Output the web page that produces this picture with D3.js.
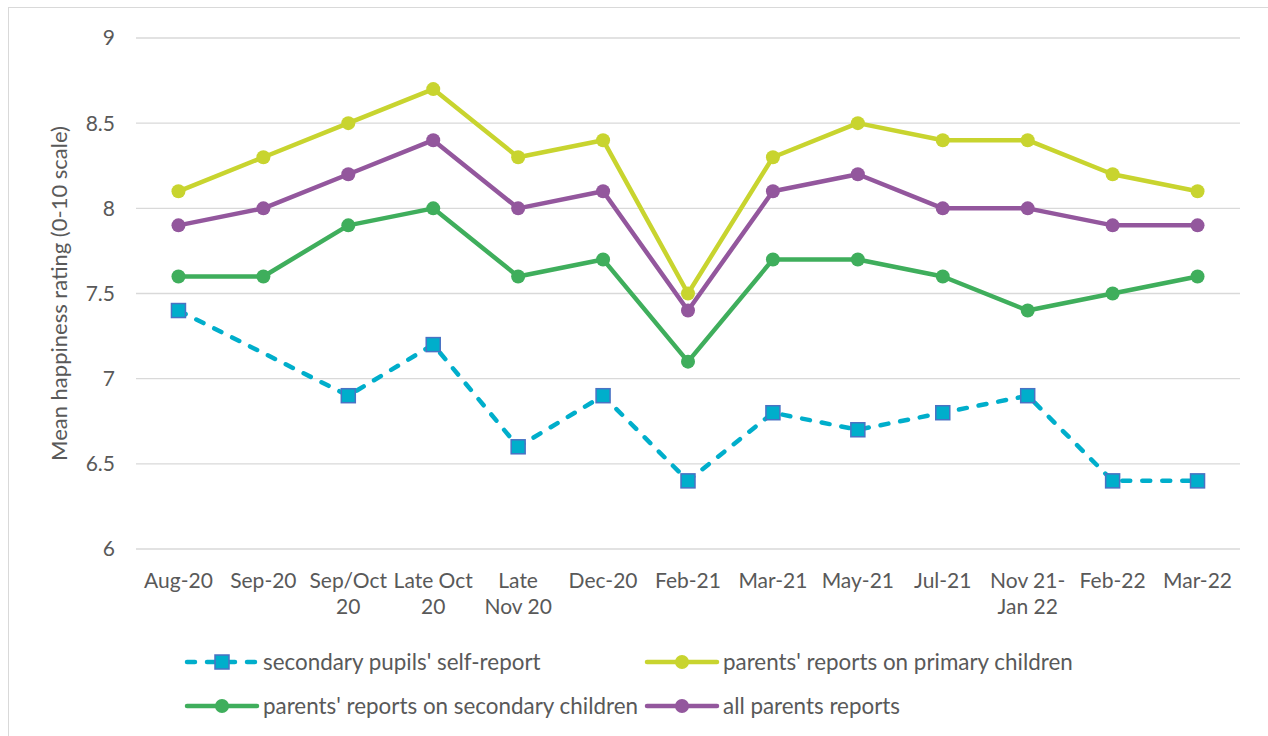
<!DOCTYPE html>
<html>
<head>
<meta charset="utf-8">
<script src="https://cdn.jsdelivr.net/npm/d3@7"></script>
<style>
  body { margin: 0; background: #fff; }
  svg text { font-family: Lato, "Open Sans", sans-serif; fill: #595959; }
</style>
</head>
<body>
<svg id="chart" width="1268" height="736"></svg>
<script>
// category labels, one array entry per tick, split into lines as in the picture
const categories = ["Aug-20", "Sep-20", "Sep/Oct 20", "Late Oct 20", "Late Nov 20", "Dec-20", "Feb-21",
  "Mar-21", "May-21", "Jul-21", "Nov 21-Jan 22", "Feb-22", "Mar-22"];
const categoryLines = [["Aug-20"], ["Sep-20"], ["Sep/Oct", "20"], ["Late Oct", "20"], ["Late", "Nov 20"], ["Dec-20"],
  ["Feb-21"], ["Mar-21"], ["May-21"], ["Jul-21"], ["Nov 21-", "Jan 22"], ["Feb-22"], ["Mar-22"]];

const pupilsSelf = [7.4, null, 6.9, 7.2, 6.6, 6.9, 6.4, 6.8, 6.7, 6.8, 6.9, 6.4, 6.4];
const parentsPrimary = [8.1, 8.3, 8.5, 8.7, 8.3, 8.4, 7.5, 8.3, 8.5, 8.4, 8.4, 8.2, 8.1];
const parentsSecondary = [7.6, 7.6, 7.9, 8.0, 7.6, 7.7, 7.1, 7.7, 7.7, 7.6, 7.4, 7.5, 7.6];
const allParents = [7.9, 8.0, 8.2, 8.4, 8.0, 8.1, 7.4, 8.1, 8.2, 8.0, 8.0, 7.9, 7.9];

const yTicks = [6, 6.5, 7, 7.5, 8, 8.5, 9];

const series = [
  { name: "parents' reports on secondary children", values: parentsSecondary, color: "#3fae5c", marker: "circle" },
  { name: "all parents reports", values: allParents, color: "#93579d", marker: "circle" },
  { name: "parents' reports on primary children", values: parentsPrimary, color: "#c8d42f", marker: "circle" },
  { name: "secondary pupils' self-report", values: pupilsSelf, color: "#00aecb", marker: "square", dashed: true }
];

const svg = d3.select("#chart");
const margin = { top: 38, left: 136, right: 28, bottom: 187 };
const width = 1268 - margin.left - margin.right;
const height = 736 - margin.top - margin.bottom;

// chart border
svg.append("rect")
    .attr("x", 8.5).attr("y", 7.5)
    .attr("width", 1268).attr("height", 740)
    .attr("fill", "none")
    .attr("stroke", "#d9d9d9");

const g = svg.append("g").attr("transform", `translate(${margin.left},${margin.top})`);

const x = d3.scaleBand().domain(categories).range([0, width]);
const y = d3.scaleLinear().domain([6, 9]).range([height, 0]);

// gridlines
g.append("g")
  .selectAll("line")
  .data(yTicks)
  .join("line")
    .attr("x1", 0).attr("x2", width)
    .attr("y1", d => y(d)).attr("y2", d => y(d))
    .attr("stroke", "#d9d9d9")
    .attr("stroke-width", 1.3);

// y axis labels
g.append("g")
  .selectAll("text")
  .data(yTicks)
  .join("text")
    .attr("x", -21)
    .attr("y", d => y(d))
    .attr("dy", "0.35em")
    .attr("text-anchor", "end")
    .style("font-size", "21px")
    .text(d => d);

g.append("text")
    .attr("transform", "rotate(-90)")
    .attr("x", -height / 2)
    .attr("y", -69)
    .attr("text-anchor", "middle")
    .style("font-size", "22px")
    .text("Mean happiness rating (0-10 scale)");

// x axis labels
const xLabels = g.append("g")
  .selectAll("text")
  .data(categories)
  .join("text")
    .attr("x", d => x(d) + x.bandwidth() / 2)
    .attr("y", height + 39)
    .attr("text-anchor", "middle")
    .style("font-size", "21px");

xLabels.each(function(d, i) {
  d3.select(this).selectAll("tspan")
    .data(categoryLines[i])
    .join("tspan")
      .attr("x", x(d) + x.bandwidth() / 2)
      .attr("dy", (t, j) => j === 0 ? 0 : 26)
      .text(t => t);
});

const line = d3.line()
    .x(d => x(d.cat) + x.bandwidth() / 2)
    .y(d => y(d.v));

series.forEach(s => {
  const pts = s.values.map((v, i) => ({ cat: categories[i], v })).filter(d => d.v !== null);
  g.append("path")
      .datum(pts)
      .attr("d", line)
      .attr("fill", "none")
      .attr("stroke", s.color)
      .attr("stroke-width", 4.5)
      .attr("stroke-linejoin", "round")
      .attr("stroke-linecap", "round")
      .attr("stroke-dasharray", s.dashed ? "8,12" : null);

  if (s.marker === "circle") {
    g.append("g")
      .selectAll("circle")
      .data(pts)
      .join("circle")
        .attr("cx", d => x(d.cat) + x.bandwidth() / 2)
        .attr("cy", d => y(d.v))
        .attr("r", 7)
        .attr("fill", s.color);
  } else {
    g.append("g")
      .selectAll("rect")
      .data(pts)
      .join("rect")
        .attr("x", d => x(d.cat) + x.bandwidth() / 2 - 7)
        .attr("y", d => y(d.v) - 7)
        .attr("width", 14).attr("height", 14)
        .attr("fill", s.color)
        .attr("stroke", "#4a72c4")
        .attr("stroke-width", 1.5);
  }
});

// legend
const legendItems = [series[3], series[2], series[0], series[1]];
const legendPos = [[187, 662], [647, 662], [187, 706], [647, 706]];

legendItems.forEach((s, i) => {
  const [lx, ly] = legendPos[i];
  const lg = svg.append("g").attr("transform", `translate(${lx},${ly})`);
  lg.append("line")
      .attr("x1", 0).attr("x2", 70)
      .attr("y1", 0).attr("y2", 0)
      .attr("stroke", s.color)
      .attr("stroke-width", 4.5)
      .attr("stroke-linecap", "round")
      .attr("stroke-dasharray", s.dashed ? "8,12" : null);
  if (s.marker === "circle") {
    lg.append("circle").attr("cx", 35).attr("cy", 0).attr("r", 7).attr("fill", s.color);
  } else {
    lg.append("rect").attr("x", 28).attr("y", -7).attr("width", 14).attr("height", 14)
        .attr("fill", s.color).attr("stroke", "#4a72c4").attr("stroke-width", 1.5);
  }
  lg.append("text")
      .attr("x", 76)
      .attr("y", 0)
      .attr("dy", "0.35em")
      .style("font-size", "22.4px")
      .text(s.name);
});
</script>
</body>
</html>
